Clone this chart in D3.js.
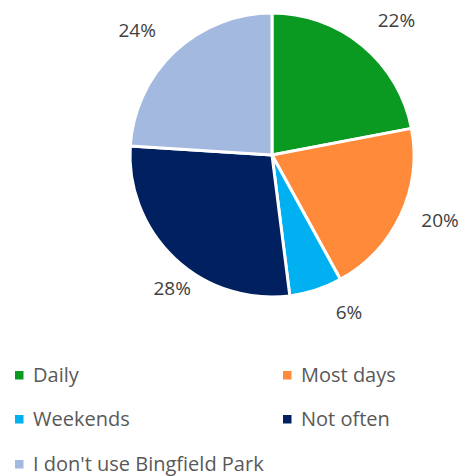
<!DOCTYPE html>
<html>
<head>
<meta charset="utf-8">
<script src="https://cdn.jsdelivr.net/npm/d3@7"></script>
<style>
  body { margin: 0; background: #fff; }
  svg { font-family: "Open Sans", Lato, sans-serif; }
</style>
</head>
<body>
<svg width="465" height="476"></svg>
<script>
const categories = ['Daily', 'Most days', 'Weekends', 'Not often', "I don't use Bingfield Park"];
const values = [22, 20, 6, 28, 24];
const colors = ['#0a9a22', '#ff8a3a', '#00b0f0', '#002060', '#a3b9e0'];

// small tweaks so the labels sit like the "best fit" ones
const labelNudge = [[11, 2], [7, -10], [22, -12], [22, 4], [-13, 5]];

const svg = d3.select('svg');
const cx = 272, cy = 155, radius = 142;

const data = categories.map((c, i) => ({ name: c, value: values[i], color: colors[i] }));

const pie = d3.pie().sort(null).value(d => d.value);
const arc = d3.arc().innerRadius(0).outerRadius(radius);
const labelArc = d3.arc().innerRadius(178).outerRadius(178);

const g = svg.append('g')
    .attr('transform', `translate(${cx},${cy})`);

const arcs = pie(data);

g.selectAll('path')
  .data(arcs)
  .join('path')
    .attr('d', arc)
    .attr('fill', d => d.data.color)
    .attr('stroke', '#fff')
    .attr('stroke-width', 3)
    .attr('stroke-linejoin', 'round');

g.selectAll('text.lbl')
  .data(arcs)
  .join('text')
    .attr('class', 'lbl')
    .attr('transform', (d, i) => {
      const [x, y] = labelArc.centroid(d);
      return `translate(${x + labelNudge[i][0]},${y + labelNudge[i][1]})`;
    })
    .attr('text-anchor', 'middle')
    .attr('dy', '0.35em')
    .attr('fill', '#404040')
    .style('font-size', '19px')
    .text(d => d.data.value + '%');

// legend
const legendX = d3.scaleOrdinal().domain([0, 1]).range([15, 283]);
const legendY = d3.scaleOrdinal().domain([0, 1, 2]).range([375, 419, 464]);

const legend = svg.append('g')
  .selectAll('g')
  .data(data)
  .join('g')
    .attr('transform', (d, i) => `translate(${legendX(i % 2)},${legendY(Math.floor(i / 2))})`);

legend.append('rect')
    .attr('x', 0)
    .attr('y', -4)
    .attr('width', 8.5)
    .attr('height', 8.5)
    .attr('fill', d => d.color);

legend.append('text')
    .attr('x', 18)
    .attr('dy', '0.35em')
    .attr('fill', '#595959')
    .style('font-size', '20px')
    .text(d => d.name);
</script>
</body>
</html>
